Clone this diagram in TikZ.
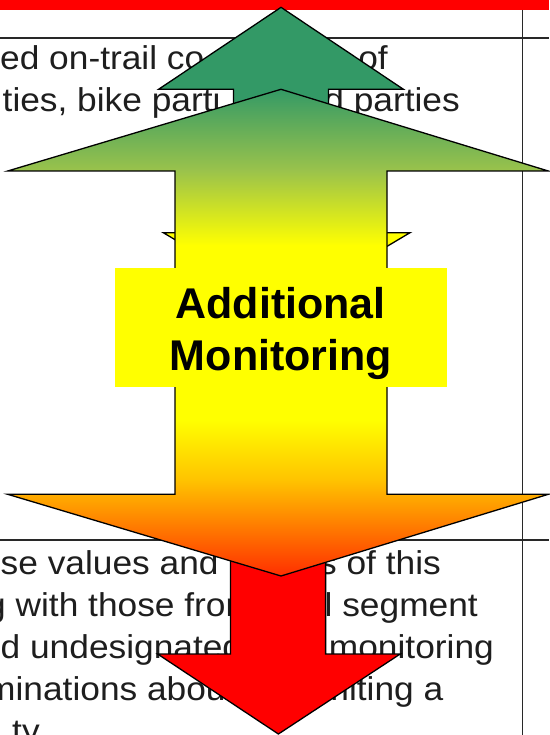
\documentclass[tikz,border=0pt]{standalone}
\usepackage{fontspec}
\setmainfont{Liberation Sans}
\newfontfamily\tabfont[FakeStretch=1.07]{Liberation Sans}
\definecolor{agreen}{RGB}{51,153,102}
\definecolor{aolive}{RGB}{155,195,75}
\definecolor{ayellow}{RGB}{255,255,0}
\definecolor{aorange}{RGB}{255,195,0}
\definecolor{ared}{RGB}{255,45,0}
\definecolor{tabline}{RGB}{40,40,40}
\definecolor{tabtext}{RGB}{30,30,30}
\def\bigarrowpath{(281,89.3) -- (548.3,171) -- (387,171) -- (387,494.3) -- (548.3,494.3) -- (281,576) -- (7.7,494.3) -- (175,494.3) -- (175,171) -- (7.7,171) -- cycle}
\begin{document}
\begin{tikzpicture}[x=1pt,y=-1pt,
  tabtxt/.style={inner sep=0pt, font=\tabfont\fontsize{33}{42}\selectfont, text=tabtext},
  lbl/.style={inner sep=0pt, font=\bfseries\fontsize{43}{52}\selectfont, text=black},
  arrowline/.style={draw=black, line width=1.3pt, line join=miter},
  rule/.style={draw=tabline, line width=1.7pt}]
\useasboundingbox (0,0) rectangle (549,735);
% table
\fill[red] (0,0) rectangle (549,10);
\draw[rule] (0,38) -- (549,38);
\draw[rule] (0,540) -- (549,540);
\draw[rule] (522.4,10) -- (522.4,735);
% table text
\node[tabtxt, anchor=base west] (t1a) at (0,69.5) {ed on-trail co};
\node[tabtxt, anchor=base east] (t1b) at (388,69.5) {of};
\node[tabtxt, anchor=base west] (t2a) at (2.5,111.5) {ties, bike parti};
\node[tabtxt, anchor=base east] (t2b) at (460,111.5) {d parties};
\node[tabtxt, anchor=base west] (b1a) at (0.5,574.5) {se values and};
\node[tabtxt, anchor=base east] (b1b) at (441,574.5) {s of this};
\node[tabtxt, anchor=base west] (b2a) at (-14,616.5) {g with those from};
\node[tabtxt, anchor=base east] (b2b) at (478,616.5) {l segment};
\node[tabtxt, anchor=base west] (b3a) at (0.5,658.5) {d undesignated};
\node[tabtxt, anchor=base east] (b3b) at (494,658.5) {monitoring};
\node[tabtxt, anchor=base west] (b4a) at (-14,700.5) {minations abou};
\node[tabtxt, anchor=base east] (b4b) at (443.5,700.5) {limiting a};
\node[tabtxt, anchor=base west] (b5a) at (12,742.5) {ty};
% green up arrow
\filldraw[arrowline, fill=agreen] (281,7.3) -- (403.4,89.3) -- (328.4,89.3) -- (328.4,300) -- (233.5,300) -- (233.5,89.3) -- (158.6,89.3) -- cycle;
% red down arrow
\filldraw[arrowline, fill=red] (278.4,734) -- (400.2,654) -- (325.6,654) -- (325.6,450) -- (230.4,450) -- (230.4,654) -- (157.6,654) -- cycle;
% yellow arrow head behind
\filldraw[arrowline, fill=ayellow] (163.3,232.7) -- (410,232.7) -- (286.7,306) -- cycle;
% big double arrow with gradient
\begin{scope}
  \clip \bigarrowpath;
  \shade[top color=agreen, bottom color=aolive] (0,88) rectangle (549,171.5);
  \shade[top color=aolive, bottom color=ayellow] (0,171) rectangle (549,245.5);
  \fill[ayellow] (0,245) rectangle (549,420.5);
  \shade[top color=ayellow, bottom color=aorange] (0,420) rectangle (549,480.5);
  \shade[top color=aorange, bottom color=ared] (0,480) rectangle (549,577);
\end{scope}
\draw[arrowline] \bigarrowpath;
% label
\node[fill=ayellow, minimum width=332.2pt, minimum height=119.3pt, inner sep=0pt] (box) at (280.9,327.65) {};
\node[lbl, anchor=base] (add) at (280.7,318.3) {Additional};
\node[lbl, anchor=base] (mon) at (281,370) {Monitoring};
\end{tikzpicture}
\end{document}
